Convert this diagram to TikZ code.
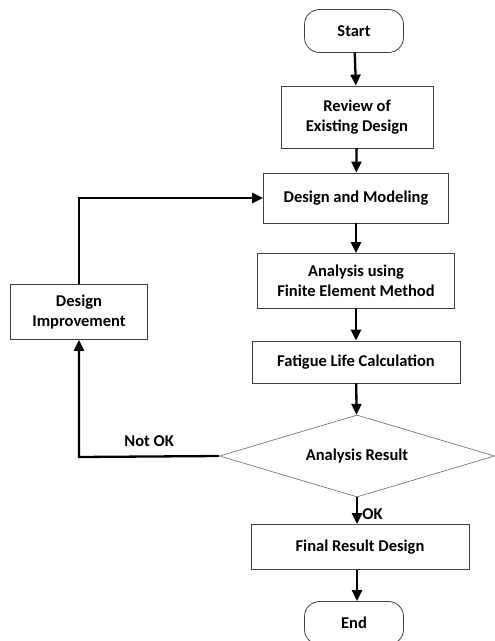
\documentclass[tikz,border=0pt]{standalone}
\usepackage{fontspec}
\setmainfont{Carlito}
\usepackage{tikz}
\usetikzlibrary{shapes.geometric,arrows.meta}
\tikzset{
    every node/.style={font=\fontsize{16.5}{19.5}\selectfont\bfseries},
    stepbox/.style={draw=black!75, line width=0.8pt, rectangle, align=center, inner sep=0pt},
    termbox/.style={draw=black!75, line width=0.8pt, rectangle, rounded corners=15pt, inner sep=0pt, minimum width=99pt, minimum height=43pt},
    decide/.style={draw=black!60, line width=0.6pt, diamond, aspect=3.35, inner sep=0pt, minimum width=275pt, minimum height=82pt},
    flow/.style={line width=2.3pt, -{Triangle[length=11pt,width=10pt]}}
}

\begin{document}
\begin{tikzpicture}[x=1pt,y=-1pt]
            \useasboundingbox (0,0) rectangle (495,641);
            \node[termbox] (start) at (354,31) {Start};
            \node[stepbox, minimum width=152pt, minimum height=62pt] (review) at (357,117) {Review of\\Existing Design};
            \node[stepbox, minimum width=185pt, minimum height=50pt] (model) at (356,198) {Design and Modeling};
            \node[stepbox, minimum width=197pt, minimum height=55pt] (fem) at (356,281) {Analysis using\\Finite Element Method};
            \node[stepbox, minimum width=208pt, minimum height=42pt] (fatigue) at (356,362) {Fatigue Life Calculation};
            \node[decide] (result) at (357,456) {Analysis Result};
            \node[stepbox, minimum width=218pt, minimum height=45pt] (final) at (360,547) {Final Result Design};
            \node[termbox] (end) at (354,623) {End};
            \node[stepbox, minimum width=137pt, minimum height=55pt] (improve) at (79,312) {Design\\Improvement};
            \coordinate (corner) at (79,457);
            
            \draw[flow] (start) -- (review);
            \draw[flow] (review) -- (model);
            \draw[flow] (model) -- (fem);
            \draw[flow] (fem) -- (fatigue);
            \draw[flow] (fatigue) -- (result);
            \draw[flow] (result.south) -- node[right, xshift=1pt, yshift=-3pt] {OK} (result.south |- final.north);
            \draw[flow] (final.south -| result.south) -- (result.south |- end.north);
            \draw[flow] (result.west) -- node[above, yshift=5pt] {Not OK} (corner) -- (improve);
            \draw[flow] (improve) |- (model);
        \end{tikzpicture}
\end{document}
